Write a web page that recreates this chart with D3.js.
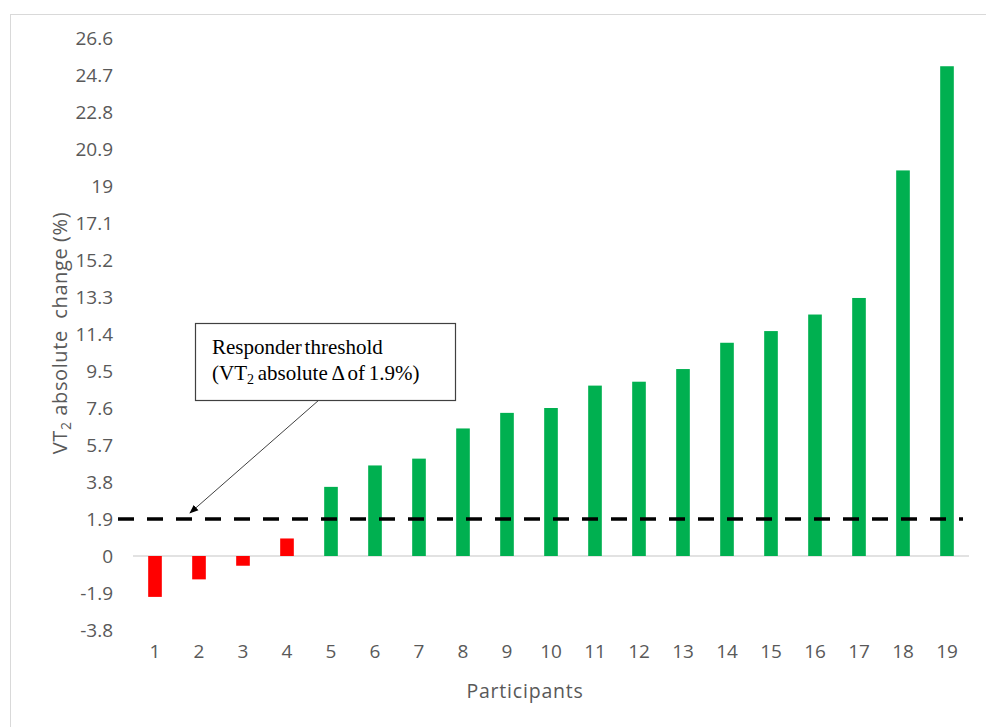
<!DOCTYPE html>
<html><head><meta charset="utf-8">
<script src="https://cdn.jsdelivr.net/npm/d3@7"></script>
<style>body{margin:0;background:#fff}svg{display:block}</style>
</head><body>
<svg id="c" width="986" height="727"></svg>
<script>
const participants = ["1","2","3","4","5","6","7","8","9","10","11","12","13","14","15","16","17","18","19"];
const changes = [-2.1,-1.2,-0.5,0.9,3.55,4.65,5.0,6.55,7.35,7.6,8.75,8.95,9.6,10.95,11.55,12.4,13.25,19.8,25.15];
const yTicks = [-3.8,-1.9,0,1.9,3.8,5.7,7.6,9.5,11.4,13.3,15.2,17.1,19,20.9,22.8,24.7,26.6];
const threshold = 1.9;

const sans = "Open Sans, Liberation Sans, Arial, sans-serif";
const svg = d3.select("#c");
svg.append("rect").attr("x",10.5).attr("y",14.5).attr("width",990).attr("height",730)
  .attr("fill","#fff").attr("stroke","#d9d9d9");

const x = d3.scaleBand().domain(participants).range([133,969]).paddingInner(0.69).paddingOuter(0.345);
const y = d3.scaleLinear().domain([-3.8,26.6]).range([630,38]);

// zero line
svg.append("line").attr("x1",133).attr("x2",969).attr("y1",y(0)).attr("y2",y(0))
  .attr("stroke","#d9d9d9").attr("stroke-width",1.5);

// bars
svg.selectAll("rect.bar").data(changes).join("rect").attr("class","bar")
  .attr("x",(d,i)=>x(participants[i]))
  .attr("width",x.bandwidth())
  .attr("y",d=>y(Math.max(0,d)))
  .attr("height",d=>Math.abs(y(d)-y(0)))
  .attr("fill",d=>d<threshold?"#ff0000":"#00b050");

// y axis
const ya = svg.append("g").attr("transform","translate(133,0)")
  .call(d3.axisLeft(y).tickValues(yTicks).tickSize(0).tickPadding(20).tickFormat(d=>String(d)));
ya.select(".domain").remove();
ya.selectAll("text").attr("font-family",sans).attr("font-size",19).attr("fill","#595959");

// x axis
const xa = svg.append("g").attr("transform",`translate(0,${y(-3.8)})`)
  .call(d3.axisBottom(x).tickSize(0).tickPadding(15));
xa.select(".domain").remove();
xa.selectAll("text").attr("font-family",sans).attr("font-size",19).attr("fill","#595959");

// threshold line
svg.append("line").attr("x1",118).attr("x2",963).attr("y1",y(threshold)).attr("y2",y(threshold))
  .attr("stroke","#000").attr("stroke-width",3.5).attr("stroke-dasharray","16,13");

// axis titles
svg.append("text").attr("x",525).attr("y",698).attr("text-anchor","middle")
  .attr("font-family",sans).attr("font-size",19.5).attr("letter-spacing",0.8).attr("fill","#595959").text("Participants");
const yt = svg.append("text").attr("transform","translate(67,333) rotate(-90)").attr("text-anchor","middle")
  .attr("font-family",sans).attr("font-size",20).attr("letter-spacing",0.6).attr("fill","#595959");
yt.append("tspan").text("VT");
yt.append("tspan").attr("font-size",14).attr("dy",4).text("2");
yt.append("tspan").attr("dy",-4).text(" absolute\u00a0 change (%)");

// annotation
svg.append("defs").append("marker").attr("id","ah").attr("viewBox","0 0 10 10").attr("refX",9).attr("refY",5)
  .attr("markerWidth",9).attr("markerHeight",9).attr("orient","auto-start-reverse")
  .append("path").attr("d","M0,1 L10,5 L0,9 Z").attr("fill","#000");
svg.append("line").attr("x1",319).attr("y1",400).attr("x2",190).attr("y2",513)
  .attr("stroke","#404040").attr("stroke-width",1).attr("marker-end","url(#ah)");
svg.append("rect").attr("x",195.5).attr("y",323.5).attr("width",260).attr("height",77)
  .attr("fill","#fff").attr("stroke","#404040").attr("stroke-width",1.2);
const tf = "Liberation Serif, Times New Roman, serif";
svg.append("text").attr("x",212).attr("y",354).attr("font-family",tf).attr("font-size",21).attr("fill","#000")
  .attr("word-spacing",-2.5).text("Responder threshold");
const t2 = svg.append("text").attr("x",212).attr("y",380).attr("font-family",tf).attr("font-size",21).attr("fill","#000")
  .attr("word-spacing",-1.5);
t2.append("tspan").text("(VT");
t2.append("tspan").attr("font-size",14).attr("dy",4).text("2");
t2.append("tspan").attr("dy",-4).text(" absolute \u0394 of 1.9%)");
</script>
</body></html>
